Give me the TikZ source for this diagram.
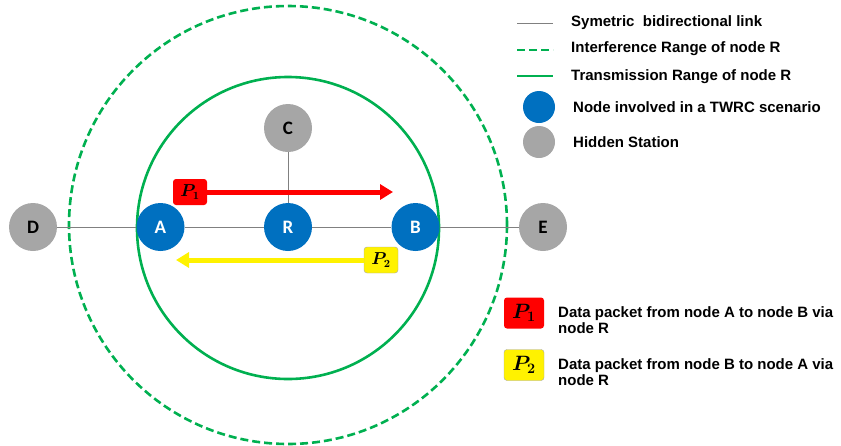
\documentclass[tikz,border=0pt]{standalone}
\usepackage{fontspec}
\usepackage{bm}
\setmainfont{Liberation Sans}
\newfontfamily\nodefont{Carlito}
\usetikzlibrary{arrows.meta,positioning}
\definecolor{twrcblue}{HTML}{0070C0}
\definecolor{hiddengray}{HTML}{A6A6A6}
\definecolor{rangegreen}{HTML}{00B050}
\definecolor{linkgray}{HTML}{808080}
\tikzstyle{twrc}=[circle,fill=twrcblue,text=white,minimum size=48pt,inner sep=0pt,font=\nodefont\bfseries\fontsize{19}{19}\selectfont]
\tikzstyle{hidden}=[twrc,fill=hiddengray,text=black]
\tikzstyle{link}=[draw=linkgray,line width=1pt]
\tikzstyle{txrange}=[draw=rangegreen,line width=2.6pt]
\tikzstyle{ifrange}=[txrange,dash pattern=on 8pt off 4pt]
\tikzstyle{packet}=[rounded corners=3pt,minimum width=34pt,minimum height=26pt,inner sep=0pt,font=\fontsize{16}{16}\selectfont]
\tikzstyle{bigpacket}=[packet,minimum width=40pt,minimum height=31pt,font=\fontsize{21}{21}\selectfont]
\tikzstyle{pktarrow}=[line width=5pt,-{Triangle[length=13pt,width=15pt]}]
\tikzstyle{legendtext}=[anchor=west,align=left,inner sep=0pt,font=\bfseries\fontsize{15}{16}\selectfont]

\begin{document}
\begin{tikzpicture}[x=1pt,y=-1pt,node distance=127.5pt]
  \useasboundingbox (0,0) rectangle (841,445);
  % ranges of node R
  \draw[ifrange] (288,225) circle[radius=219];
  \draw[txrange] (288,228) circle[radius=151];

  \node[hidden]  (D) at (33,227) {D};
  \node[twrc]    (A) [right of=D] {A};
  \node[twrc]    (R) [right of=A] {R};
  \node[twrc]    (B) [right of=R] {B};
  \node[hidden]  (E) [right of=B] {E};
  \node[hidden]  (C) [above of=R,node distance=99pt] {C};

  \path (D) edge[link] (A)
        (A) edge[link] (R)
        (R) edge[link] (B)
        (B) edge[link] (E)
        (C) edge[link] (R);

  % packets
  \node[packet,fill=red] (p1) at (190,192) {$\bm{P_1}$};
  \coordinate (p1tip) at (393,192);
  \draw[pktarrow,red] (p1) -- (p1tip);
  \node[packet,fill=yellow,draw=hiddengray,line width=0.4pt] (p2) at (381,260) {$\bm{P_2}$};
  \coordinate (p2tip) at (176,260);
  \draw[pktarrow,yellow] (p2) -- (p2tip);

  % legend
  \coordinate (lk1) at (517,23);  \coordinate (lk2) at (553,23);
  \coordinate (lif1) at (517,50); \coordinate (lif2) at (553,50);
  \coordinate (ltx1) at (517,76); \coordinate (ltx2) at (553,76);
  \draw[link] (lk1) -- (lk2);
  \draw[ifrange] (lif1) -- (lif2);
  \draw[txrange] (ltx1) -- (ltx2);
  \node[twrc,minimum size=32pt]   (lgA) at (539,107) {};
  \node[hidden,minimum size=32pt] (lgC) at (539,142) {};
  \node[legendtext] (tlk) at (571,23) {Symetric~ bidirectional link};
  \node[legendtext] (tif) at (571,49) {Interference Range of node R};
  \node[legendtext] (ttx) at (571,77) {Transmission Range of node R};
  \node[legendtext] (tnd) at (573,107) {Node involved in a TWRC scenario};
  \node[legendtext] (thd) at (573,142) {Hidden Station};

  \node[bigpacket,fill=red] (lp1) at (524,313) {$\bm{P_1}$};
  \node[bigpacket,fill=yellow,draw=hiddengray,line width=0.4pt] (lp2) at (524,365) {$\bm{P_2}$};
  \node[legendtext] (tp1) at (558,320) {Data packet from node A to node B via\\node R};
  \node[legendtext] (tp2) at (558,372) {Data packet from node B to node A via\\node R};
\end{tikzpicture}
\end{document}
